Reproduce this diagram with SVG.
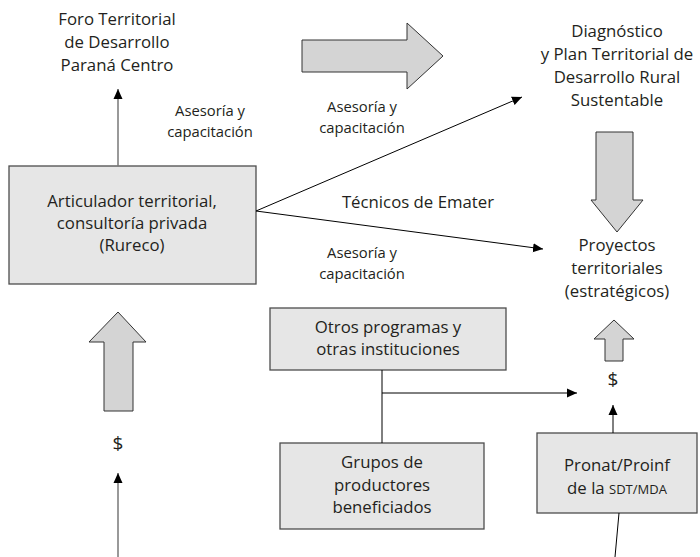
<svg xmlns="http://www.w3.org/2000/svg" width="700" height="557" viewBox="0 0 700 557">
<defs>
<style>
text{font-family:"Open Sans","Liberation Sans",sans-serif;fill:#231f20;text-anchor:middle}
.t{font-size:16.8px}
.s{font-size:14.8px}
.d{font-size:19px}
.box{fill:#e6e6e6;stroke:#4d4d4d;stroke-width:1.3}
.big{fill:#d4d4d4;stroke:#333;stroke-width:1}
.ln{fill:none;stroke:#000;stroke-width:1}
.gl{fill:none;stroke:#777;stroke-width:1.5}
</style>
<marker id="ah" viewBox="0 0 10 10" refX="10" refY="5" markerWidth="10" markerHeight="10" markerUnits="userSpaceOnUse" orient="auto">
<path d="M0,0.5 L10,5 L0,9.5 Z" fill="#000"/>
</marker>
</defs>
<g id="foro">
<text class="t" x="117" y="25">Foro Territorial</text>
<text class="t" x="117" y="48">de Desarrollo</text>
<text class="t" x="117" y="71">Paraná Centro</text>
</g>
<g id="diagnostico">
<text class="t" x="617" y="37">Diagnóstico</text>
<text class="t" x="617" y="60">y Plan Territorial de</text>
<text class="t" x="617" y="83">Desarrollo Rural</text>
<text class="t" x="617" y="106">Sustentable</text>
</g>
<g id="articulador">
<rect class="box" x="9" y="166" width="247" height="118"/>
<text class="t" x="132" y="207">Articulador territorial,</text>
<text class="t" x="132" y="229">consultoría privada</text>
<text class="t" x="132" y="251">(Rureco)</text>
</g>
<g id="proyectos">
<text class="t" x="617" y="251">Proyectos</text>
<text class="t" x="617" y="274">territoriales</text>
<text class="t" x="617" y="297">(estratégicos)</text>
</g>
<g id="otros">
<rect class="box" x="270" y="308" width="236" height="62"/>
<text class="t" x="388" y="333">Otros programas y</text>
<text class="t" x="388" y="355">otras instituciones</text>
</g>
<g id="grupos">
<rect class="box" x="280" y="443" width="204" height="86"/>
<text class="t" x="382" y="468">Grupos de</text>
<text class="t" x="382" y="491">productores</text>
<text class="t" x="382" y="513">beneficiados</text>
</g>
<g id="pronat">
<rect class="box" x="537" y="433" width="160" height="80"/>
<text class="t" x="617" y="471">Pronat/Proinf</text>
<text class="t" x="617" y="494">de la <tspan style="font-size:13px">SDT/MDA</tspan></text>
</g>
<g id="labels">
<text class="s" x="210" y="116">Asesoría y</text>
<text class="s" x="210" y="137">capacitación</text>
<text class="s" x="362" y="112">Asesoría y</text>
<text class="s" x="362" y="133">capacitación</text>
<text class="t" x="418" y="208">Técnicos de Emater</text>
<text class="s" x="362" y="258">Asesoría y</text>
<text class="s" x="362" y="279">capacitación</text>
<text class="d" x="118" y="450">$</text>
<text class="d" x="613" y="386">$</text>
</g>
<g id="connectors">
<path class="big" d="M302,40 H407 V23 L443,56 L407,89 V72 H302 Z"/>
<path class="big" d="M596,132 H633 V200 H643 L617,232 L591,200 H596 Z"/>
<path class="big" d="M605,361 V339 H594 L614,320 L634,339 H623 V361 Z"/>
<path class="big" d="M104,411 V342 H89 L118,312 L146,342 H133 V411 Z"/>
<line class="gl" x1="118" y1="166" x2="118" y2="89" marker-end="url(#ah)"/>
<line class="gl" x1="118" y1="557" x2="118" y2="473" marker-end="url(#ah)"/>
<line class="ln" x1="256" y1="211" x2="522" y2="97" marker-end="url(#ah)"/>
<line class="ln" x1="256" y1="211" x2="543" y2="249" marker-end="url(#ah)"/>
<line class="ln" x1="382" y1="370" x2="382" y2="443"/>
<line class="ln" x1="382" y1="393" x2="577" y2="393" marker-end="url(#ah)"/>
<line class="ln" x1="613" y1="433" x2="613" y2="405" marker-end="url(#ah)"/>
<line class="ln" x1="619" y1="513" x2="615" y2="557"/>
</g>
</svg>
